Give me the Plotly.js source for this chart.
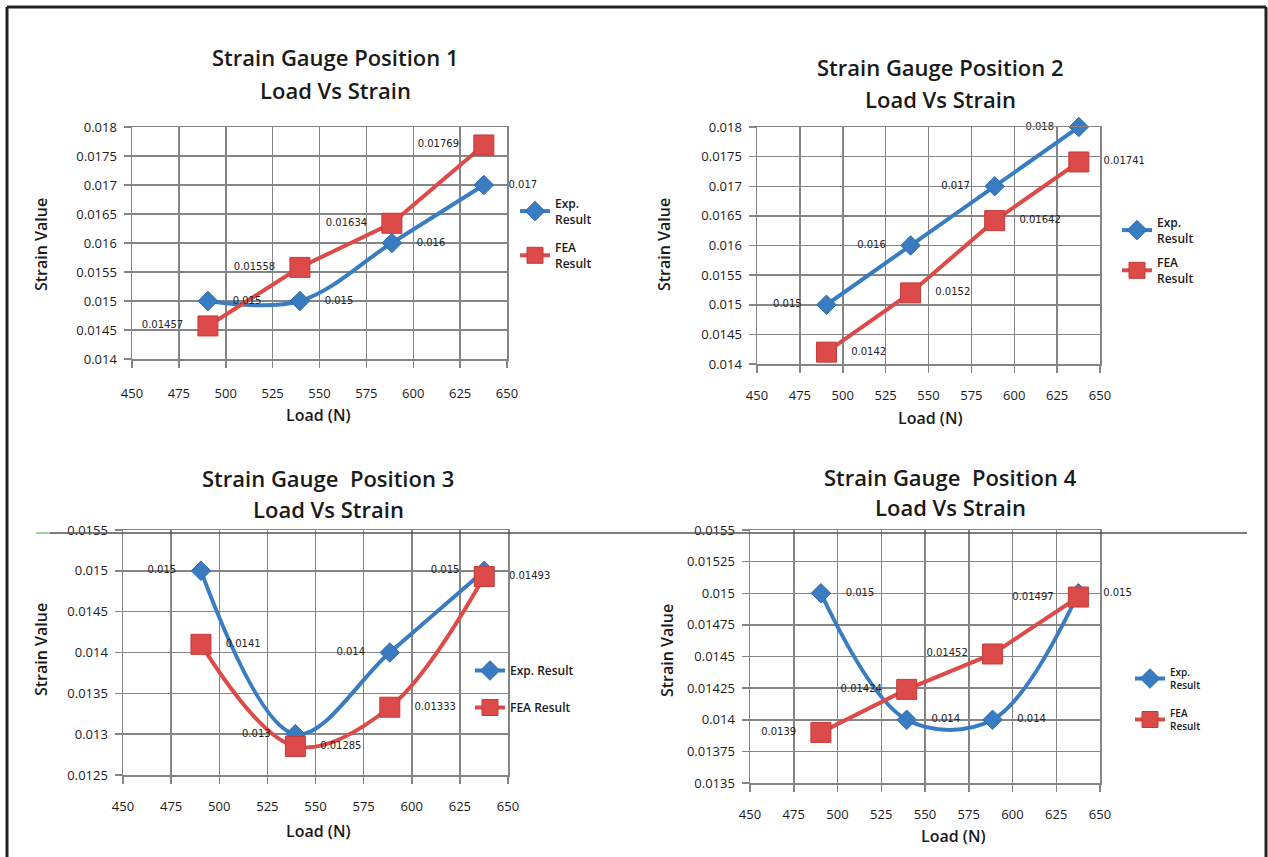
<!DOCTYPE html>
<html>
<head>
<meta charset="utf-8">
<script src="https://cdn.plot.ly/plotly-3.0.1.min.js"></script>
<style>html,body{margin:0;padding:0;background:#fff;}#chart{width:1268px;height:857px;}</style>
</head>
<body>
<div id="chart"></div>
<script>
// ---------- data ----------
var loads = [490.5, 539.55, 588.6, 637.65];

var exp1 = [0.015, 0.015, 0.016, 0.017];
var fea1 = [0.01457, 0.01558, 0.01634, 0.01769];
var exp1Labels = ["0.015", "0.015", "0.016", "0.017"];
var fea1Labels = ["0.01457", "0.01558", "0.01634", "0.01769"];

var exp2 = [0.015, 0.016, 0.017, 0.018];
var fea2 = [0.0142, 0.0152, 0.01642, 0.01741];
var exp2Labels = ["0.015", "0.016", "0.017", "0.018"];
var fea2Labels = ["0.0142", "0.0152", "0.01642", "0.01741"];

var exp3 = [0.015, 0.013, 0.014, 0.015];
var fea3 = [0.0141, 0.01285, 0.01333, 0.01493];
var exp3Labels = ["0.015", "0.013", "0.014", "0.015"];
var fea3Labels = ["0.0141", "0.01285", "0.01333", "0.01493"];

var exp4 = [0.015, 0.014, 0.014, 0.015];
var fea4 = [0.0139, 0.01424, 0.01452, 0.01497];
var exp4Labels = ["0.015", "0.014", "0.014", "0.015"];
var fea4Labels = ["0.0139", "0.01424", "0.01452", "0.01497"];

var xTicks = [450, 475, 500, 525, 550, 575, 600, 625, 650];
var yTicks12 = [0.014, 0.0145, 0.015, 0.0155, 0.016, 0.0165, 0.017, 0.0175, 0.018];
var yTickText12 = ["0.014", "0.0145", "0.015", "0.0155", "0.016", "0.0165", "0.017", "0.0175", "0.018"];
var yTicks3 = [0.0125, 0.013, 0.0135, 0.014, 0.0145, 0.015, 0.0155];
var yTickText3 = ["0.0125", "0.013", "0.0135", "0.014", "0.0145", "0.015", "0.0155"];
var yTicks4 = [0.0135, 0.01375, 0.014, 0.01425, 0.0145, 0.01475, 0.015, 0.01525, 0.0155];
var yTickText4 = ["0.0135", "0.01375", "0.014", "0.01425", "0.0145", "0.01475", "0.015", "0.01525", "0.0155"];

var titleLine1 = ["Strain Gauge Position 1", "Strain Gauge Position 2", "Strain Gauge  Position 3", "Strain Gauge  Position 4"];
var titleLine2 = "Load Vs Strain";
var xTitle = "Load (N)";
var yTitle = "Strain Value";
var expName2 = "Exp.<br>Result", feaName2 = "FEA<br>Result";
var expName1 = "Exp. Result", feaName1 = "FEA Result";

// ---------- style ----------
var W = 1268, H = 857;
var BLUE = "#3a7cc2", RED = "#dd4a4a";
var GRID = "#858585";
var FONT = "'Open Sans', Lato, sans-serif";
var LABFONT = "'DejaVu Sans', sans-serif";
function px(x){ return x / W; }
function py(y){ return 1 - y / H; }

var traces = [];
function addChart(n, exp, fea, expLab, feaLab, expShape, feaShape, expPos, feaPos, expName, feaName, legendId, msz){
  var xa = "x" + (n === 1 ? "" : n), ya = "y" + (n === 1 ? "" : n);
  traces.push({x: loads, y: exp, xaxis: xa, yaxis: ya, name: expName, legend: legendId, legendgroup: "exp" + n,
    mode: "lines+markers", line: {color: BLUE, width: 4, shape: expShape, smoothing: 1},
    marker: {symbol: "diamond", size: msz[0], color: BLUE, line: {color: "#2f6aa8", width: 1}}, cliponaxis: false});
  traces.push({x: loads, y: fea, xaxis: xa, yaxis: ya, name: feaName, legend: legendId, legendgroup: "fea" + n,
    mode: "lines+markers", line: {color: RED, width: 4, shape: feaShape, smoothing: 1},
    marker: {symbol: "square", size: msz[1], color: RED, line: {color: "#c43a3a", width: 1}}, cliponaxis: false});
  traces.push({x: loads, y: exp, xaxis: xa, yaxis: ya, mode: "markers+text", text: expLab, textposition: expPos,
    marker: {size: 38, color: "rgba(0,0,0,0)"},
    textfont: {family: LABFONT, size: 10, color: "#222"}, showlegend: false, hoverinfo: "skip", cliponaxis: false});
  traces.push({x: loads, y: fea, xaxis: xa, yaxis: ya, mode: "markers+text", text: feaLab, textposition: feaPos,
    marker: {size: 38, color: "rgba(0,0,0,0)"},
    textfont: {family: LABFONT, size: 10, color: "#222"}, showlegend: false, hoverinfo: "skip", cliponaxis: false});
}
var R4 = ["middle right","middle right","middle right","middle right"];
var L4 = ["middle left","middle left","middle left","middle left"];
addChart(1, exp1, fea1, exp1Labels, fea1Labels, "spline", "linear", R4, L4, expName2, feaName2, "legend", [15, 20]);
addChart(2, exp2, fea2, exp2Labels, fea2Labels, "linear", "linear", L4, R4, expName2, feaName2, "legend2", [15, 20]);
addChart(3, exp3, fea3, exp3Labels, fea3Labels, "spline", "spline", L4, R4, expName1, feaName1, "legend3", [15, 20]);
addChart(4, exp4, fea4, exp4Labels, fea4Labels, "spline", "linear", R4, L4, expName2, feaName2, "legend4", [15, 20]);

function xAxis(dom, anchor, standoff){
  return {domain: dom, anchor: anchor, range: [450, 650], tickvals: xTicks, ticktext: xTicks.map(String),
    showgrid: true, gridcolor: GRID, gridwidth: 1.5, zeroline: false, showline: true, linecolor: GRID, linewidth: 1.5, mirror: true,
    ticks: "outside", ticklen: 7, tickcolor: GRID, tickwidth: 1.5, ticklabelstandoff: standoff,
    tickfont: {family: FONT, size: 13, color: "#1a1a1a"}};
}
function yAxis(dom, anchor, range, vals, txt){
  return {domain: dom, anchor: anchor, range: range, tickvals: vals, ticktext: txt,
    showgrid: true, gridcolor: GRID, gridwidth: 1.5, zeroline: false, showline: true, linecolor: GRID, linewidth: 1.5, mirror: true,
    ticks: "outside", ticklen: 7, tickcolor: GRID, tickwidth: 1.5, ticklabelstandoff: 4,
    tickfont: {family: FONT, size: 13, color: "#1a1a1a"}};
}

var ann = [];
function title(i, cx, cy1, cy2){
  ann.push({text: titleLine1[i], x: px(cx), y: py(cy1), xref: "paper", yref: "paper", xanchor: "center", yanchor: "middle",
    showarrow: false, font: {family: FONT, size: 22, color: "#1a1a1a", weight: 600}});
  ann.push({text: titleLine2, x: px(cx), y: py(cy2), xref: "paper", yref: "paper", xanchor: "center", yanchor: "middle",
    showarrow: false, font: {family: FONT, size: 22, color: "#1a1a1a", weight: 600}});
}
function axTitle(text, cx, cy, rot){
  ann.push({text: text, x: px(cx), y: py(cy), xref: "paper", yref: "paper", xanchor: "center", yanchor: "middle",
    showarrow: false, textangle: rot || 0, font: {family: FONT, size: 16, color: "#1a1a1a", weight: 600}});
}
title(0, 335, 57, 90);
title(1, 940, 67, 99);
title(2, 328, 478, 509);
title(3, 950, 477, 507);
axTitle(xTitle, 318, 415); axTitle(yTitle, 41, 245, -90);
axTitle(xTitle, 930, 418); axTitle(yTitle, 664, 245, -90);
axTitle(xTitle, 318, 831); axTitle(yTitle, 41, 650, -90);
axTitle(xTitle, 953, 836); axTitle(yTitle, 667, 650, -90);

function legend(x, y, size, gap){
  return {x: px(x), y: py(y), xanchor: "left", yanchor: "top", bgcolor: "rgba(0,0,0,0)",
    font: {family: FONT, size: size, color: "#1a1a1a", weight: 600}, tracegroupgap: gap, itemwidth: 30};
}

var layout = {
  width: W, height: H, margin: {l: 0, r: 0, t: 0, b: 0}, paper_bgcolor: "#fff", plot_bgcolor: "#fff",
  font: {family: FONT},
  xaxis: xAxis([px(132), px(507)], "y", 15),   yaxis: yAxis([py(359), py(127)], "x", [0.014, 0.018], yTicks12, yTickText12),
  xaxis2: xAxis([px(757), px(1100)], "y2", 12), yaxis2: yAxis([py(364), py(127)], "x2", [0.014, 0.018], yTicks12, yTickText12),
  xaxis3: xAxis([px(123), px(508)], "y3", 12), yaxis3: yAxis([py(775), py(530)], "x3", [0.0125, 0.0155], yTicks3, yTickText3),
  xaxis4: xAxis([px(750), px(1100)], "y4", 12), yaxis4: yAxis([py(783), py(530)], "x4", [0.0135, 0.0155], yTicks4, yTickText4),
  legend: legend(515, 189, 12, 10),
  legend2: legend(1117, 208, 12, 6),
  legend3: legend(470, 656, 12, 18),
  legend4: legend(1130, 659, 10, 12),
  annotations: ann,
  shapes: [
    {type: "line", xref: "paper", yref: "paper", x0: px(7), x1: px(1266), y0: py(7), y1: py(7), line: {color: "#222", width: 3}},
    {type: "line", xref: "paper", yref: "paper", x0: px(7), x1: px(7), y0: py(7), y1: 0, line: {color: "#222", width: 3}},
    {type: "line", xref: "paper", yref: "paper", x0: px(1266), x1: px(1266), y0: py(7), y1: 0, line: {color: "#222", width: 3}},
    {type: "line", xref: "paper", yref: "paper", x0: px(50), x1: px(1247), y0: py(533), y1: py(533), line: {color: "#5a4f48", width: 1.5}},
    {type: "line", xref: "paper", yref: "paper", x0: px(36), x1: px(50), y0: py(533), y1: py(533), line: {color: "#7cc47c", width: 1.5}}
  ],
  showlegend: true
};

Plotly.newPlot("chart", traces, layout, {displayModeBar: false, staticPlot: true});
</script>
</body>
</html>
